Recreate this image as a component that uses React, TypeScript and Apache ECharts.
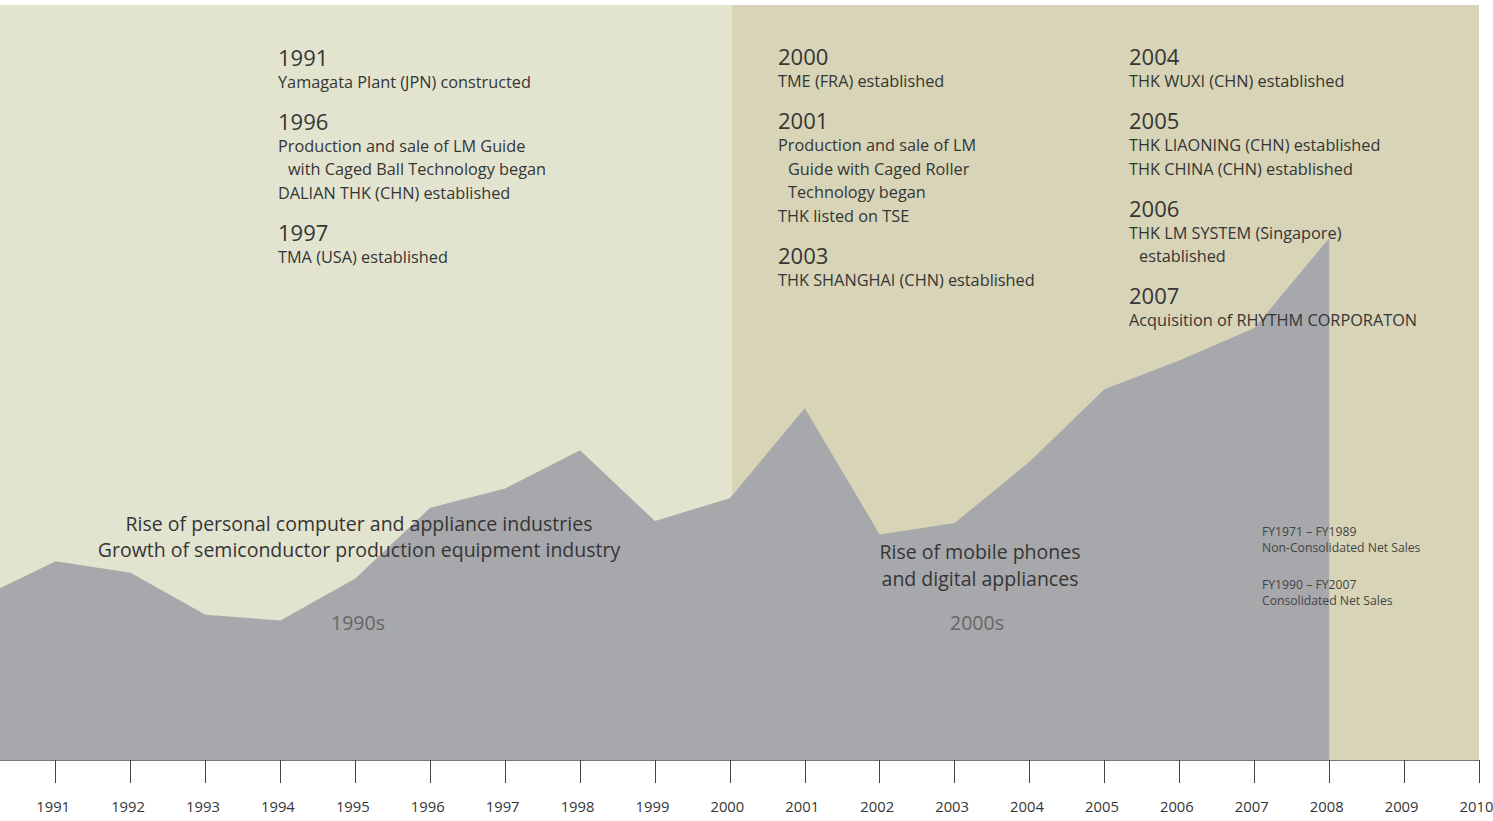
import React, { useEffect, useRef } from "react";
import * as echarts from "echarts";

// Net sales (¥ billion), plotted at each year tick
const years = [1990, 1991, 1992, 1993, 1994, 1995, 1996, 1997, 1998, 1999, 2000, 2001, 2002, 2003, 2004, 2005, 2006, 2007, 2008];
const netSales = [85, 104, 98, 76, 73, 95, 132, 142, 162, 125, 137, 184, 118, 124, 156, 194, 209, 226, 273];

const tickYears = [1991, 1992, 1993, 1994, 1995, 1996, 1997, 1998, 1999, 2000, 2001, 2002, 2003, 2004, 2005, 2006, 2007, 2008, 2009, 2010];

const X_MIN = 1990.257;
const X_MAX = 2010;
const DECADE_SPLIT = 2000.02;
const Y_MAX = 395;

const bandColors = ["#e3e4cf", "#d8d4b7"];

type Milestone = { year: string; lines: { t: string; indent?: boolean }[] };

const column1990s: Milestone[] = [
  { year: "1991", lines: [{ t: "Yamagata Plant (JPN) constructed" }] },
  {
    year: "1996",
    lines: [
      { t: "Production and sale of LM Guide" },
      { t: "with Caged Ball Technology began", indent: true },
      { t: "DALIAN THK (CHN) established" },
    ],
  },
  { year: "1997", lines: [{ t: "TMA (USA) established" }] },
];

const column2000a: Milestone[] = [
  { year: "2000", lines: [{ t: "TME (FRA) established" }] },
  {
    year: "2001",
    lines: [
      { t: "Production and sale of LM" },
      { t: "Guide with Caged Roller", indent: true },
      { t: "Technology began", indent: true },
      { t: "THK listed on TSE" },
    ],
  },
  { year: "2003", lines: [{ t: "THK SHANGHAI (CHN) established" }] },
];

const column2000b: Milestone[] = [
  { year: "2004", lines: [{ t: "THK WUXI (CHN) established" }] },
  {
    year: "2005",
    lines: [{ t: "THK LIAONING (CHN) established" }, { t: "THK CHINA (CHN) established" }],
  },
  {
    year: "2006",
    lines: [{ t: "THK LM SYSTEM (Singapore)" }, { t: "established", indent: true }],
  },
  { year: "2007", lines: [{ t: "Acquisition of RHYTHM CORPORATON" }] },
];

const eraTexts90s = ["Rise of personal computer and appliance industries", "Growth of semiconductor production equipment industry"];
const eraTexts00s = ["Rise of mobile phones", "and digital appliances"];
const noteTexts = [
  ["FY1971 – FY1989", "Non-Consolidated Net Sales"],
  ["FY1990 – FY2007", "Consolidated Net Sales"],
];

const FONT = "'Open Sans', 'Noto Sans', sans-serif";
const TEXT_COLOR = "#353535";

function txt(text: string, x: number, y: number, size: number, color: string, align = "left") {
  return {
    type: "text",
    x,
    y,
    silent: true,
    z: 100,
    style: {
      text,
      fontSize: size,
      fontFamily: FONT,
      fill: color,
      textAlign: align,
      align,
      textVerticalAlign: "middle",
      verticalAlign: "middle",
    },
  };
}

function columnGraphics(col: Milestone[], x: number, startY: number) {
  const out: any[] = [];
  let y = startY;
  col.forEach((m) => {
    out.push(txt(m.year, x, y, 22, TEXT_COLOR));
    let ly = y + 25;
    m.lines.forEach((l, j) => {
      out.push(txt(l.t, x + (l.indent ? 10 : 0), ly, 16.3, TEXT_COLOR));
      if (j < m.lines.length - 1) ly += 23.5;
    });
    y = ly + 39;
  });
  return out;
}

export default function App() {
  const ref = useRef<HTMLDivElement>(null);

  useEffect(() => {
    if (!ref.current) return;
    const chart = echarts.init(ref.current, undefined, { renderer: "svg" });

    const graphics: any[] = [
      ...columnGraphics(column1990s, 278, 56.5),
      ...columnGraphics(column2000a, 778, 56),
      ...columnGraphics(column2000b, 1129, 56),
      txt(eraTexts90s[0], 359, 523, 19.5, TEXT_COLOR, "center"),
      txt(eraTexts90s[1], 359, 549, 19.5, TEXT_COLOR, "center"),
      txt("1990s", 358, 622, 19.5, "#666666", "center"),
      txt(eraTexts00s[0], 980, 551, 19.5, TEXT_COLOR, "center"),
      txt(eraTexts00s[1], 980, 578, 19.5, TEXT_COLOR, "center"),
      txt("2000s", 977, 622, 19.5, "#666666", "center"),
      txt(noteTexts[0][0], 1262, 531, 12.2, "#444444"),
      txt(noteTexts[0][1], 1262, 547, 12.2, "#444444"),
      txt(noteTexts[1][0], 1262, 584, 12.2, "#444444"),
      txt(noteTexts[1][1], 1262, 600, 12.2, "#444444"),
    ];

    chart.setOption({
      animation: false,
      backgroundColor: "#ffffff",
      grid: { left: 0, right: 14, top: 5, bottom: 61, containLabel: false, outerBoundsMode: "none" },
      xAxis: {
        type: "value",
        min: X_MIN,
        max: X_MAX,
        splitLine: { show: false },
        axisLine: { show: true, onZero: false, lineStyle: { color: "#777777", width: 1 } },
        axisTick: {
          show: true,
          customValues: tickYears,
          length: 23,
          lineStyle: { color: "#444444", width: 1 },
        },
        axisLabel: {
          show: true,
          customValues: tickYears,
          margin: 38,
          fontSize: 14.8,
          fontFamily: FONT,
          color: TEXT_COLOR,
          padding: [0, 5, 0, 0],
          formatter: (v: number) => String(Math.round(v)),
        },
      },
      yAxis: {
        type: "value",
        min: 0,
        max: Y_MAX,
        show: false,
        splitLine: { show: false },
      },
      series: [
        {
          type: "line",
          name: "bands",
          data: [],
          z: 1,
          silent: true,
          markArea: {
            silent: true,
            data: [
              [{ xAxis: X_MIN, itemStyle: { color: bandColors[0] } }, { xAxis: DECADE_SPLIT }],
              [{ xAxis: DECADE_SPLIT, itemStyle: { color: bandColors[1] } }, { xAxis: X_MAX }],
            ],
          },
        },
        {
          type: "line",
          name: "Net Sales",
          data: years.map((y, i) => [y, netSales[i]]),
          symbol: "none",
          clip: true,
          z: 2,
          silent: true,
          lineStyle: { width: 0, color: "#a7a8ab" },
          areaStyle: { color: "#a7a8ab", opacity: 1 },
        },
      ],
      graphic: graphics,
    });

    return () => chart.dispose();
  }, []);

  return (
    <div
      ref={ref}
      style={{ position: "absolute", left: 0, top: 0, width: 1493, height: 821 }}
    />
  );
}
